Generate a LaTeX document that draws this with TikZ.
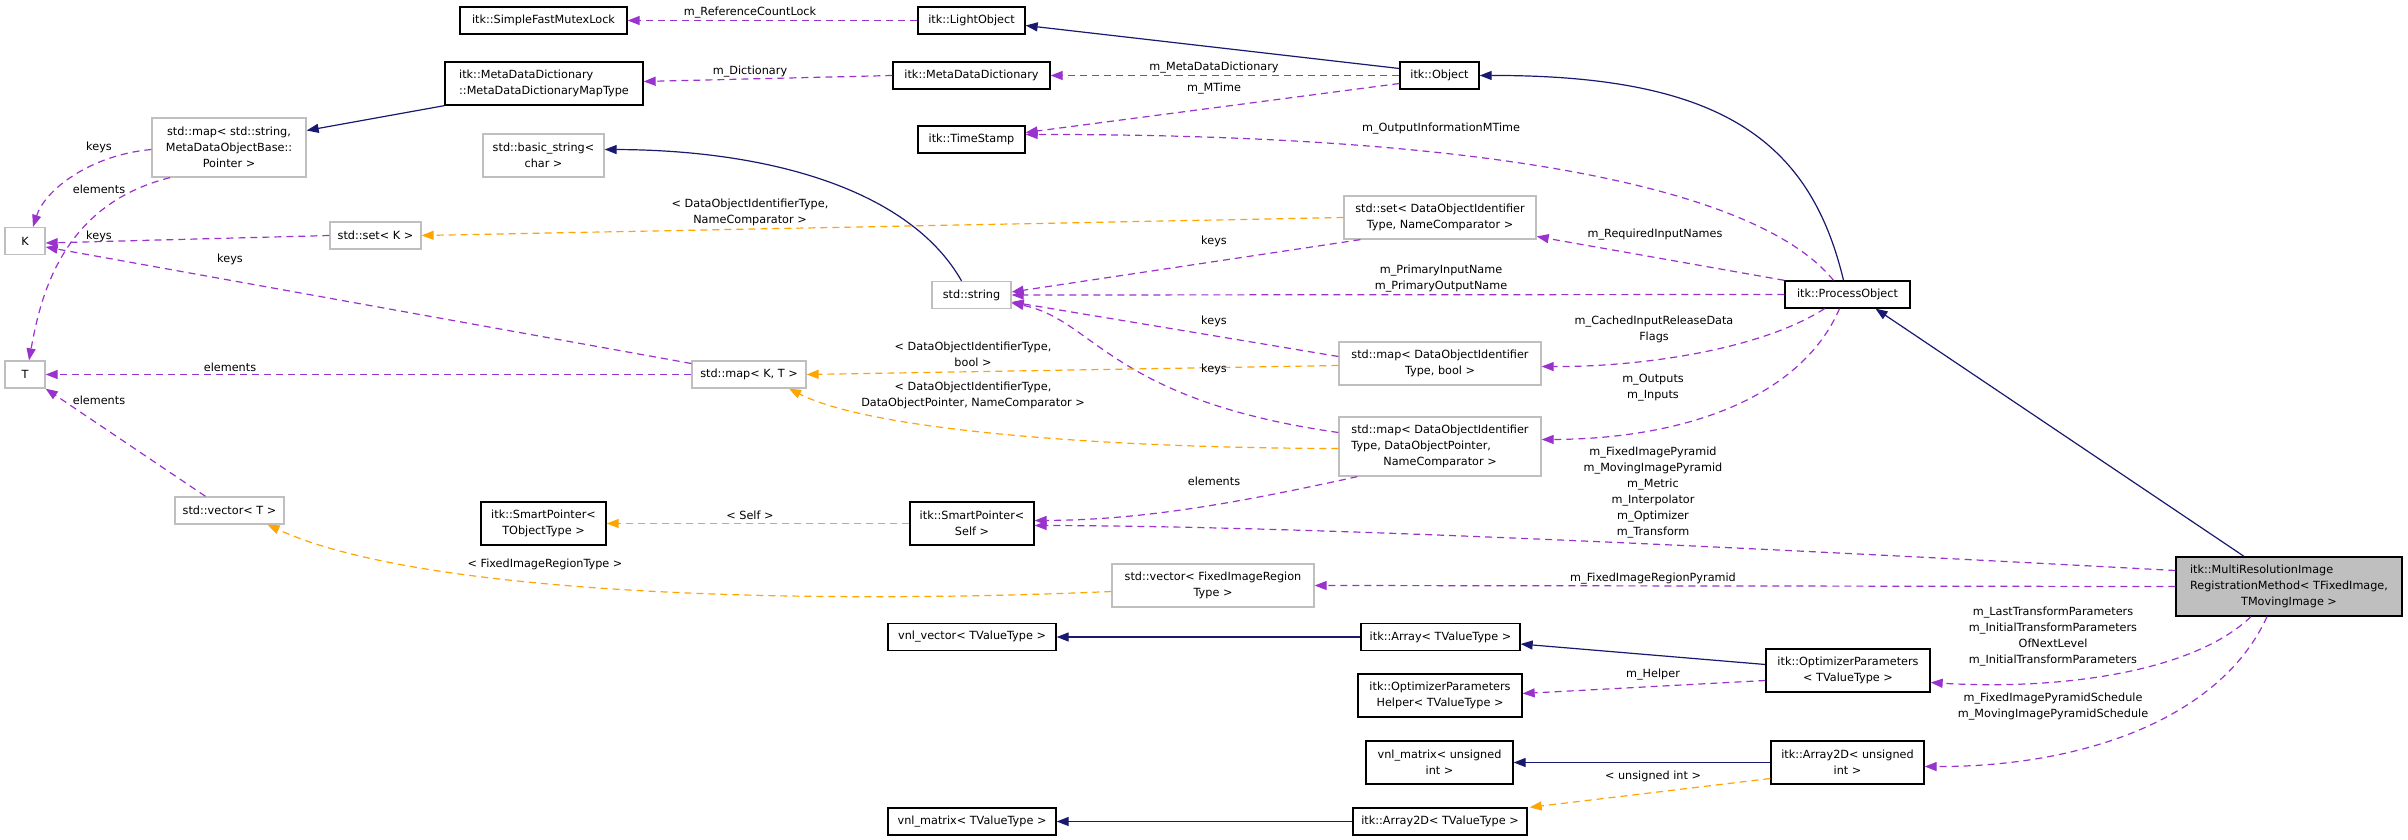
\documentclass[tikz,border=0pt]{standalone}
\usepackage{fontspec}
\setmainfont{DejaVu Sans}
\usepackage{tikz}
\usetikzlibrary{arrows.meta}

\definecolor{usagecol}{HTML}{9A32CD}
\definecolor{tmplcol}{HTML}{FFA500}
\definecolor{inhcol}{HTML}{191970}
\definecolor{extgrey}{HTML}{BFBFBF}

\begin{document}
\begin{tikzpicture}[x=1pt, y=-1pt,
  every node/.style={font=\fontsize{11.25}{16}\selectfont, inner sep=0pt, align=center},
  docbox/.style={draw=black, line width=1.3pt, fill=white},
  extbox/.style={draw=extgrey, line width=1.3pt, fill=white},
  mainbox/.style={draw=black, line width=1.3pt, fill=extgrey},
  lbl/.style={inner sep=0pt},
  inherit/.style={draw=inhcol, line width=1.2pt, -{Triangle[length=12pt,width=9pt]}},
  usage/.style={draw=usagecol, line width=1.2pt, dash pattern=on 7pt off 5pt, -{Triangle[length=12pt,width=9pt]}},
  tmpl/.style={draw=tmplcol, line width=1.2pt, dash pattern=on 7pt off 5pt, -{Triangle[length=12pt,width=9pt]}}]
  \useasboundingbox[fill=white] (0,0) rectangle (2408,840);

  % itk classes, top rows
  \node[docbox, minimum width=167pt, minimum height=27pt] (lock) at (543.5,20.5) {itk::SimpleFastMutexLock};
  \node[docbox, minimum width=107pt, minimum height=27pt] (light) at (971.5,20.5) {itk::LightObject};
  \node[docbox, minimum width=198pt, minimum height=43pt, align=left] (mddmap) at (544,83.5) {itk::MetaDataDictionary\\::MetaDataDictionaryMapType};
  \node[docbox, minimum width=157pt, minimum height=27pt] (mdd) at (971.5,75.5) {itk::MetaDataDictionary};
  \node[docbox, minimum width=79pt, minimum height=27pt] (object) at (1439.5,75.5) {itk::Object};
  \node[docbox, minimum width=107pt, minimum height=27pt] (stamp) at (971.5,139.5) {itk::TimeStamp};
  \node[docbox, minimum width=125pt, minimum height=27pt] (process) at (1847.5,294.5) {itk::ProcessObject};

  % std containers
  \node[extbox, minimum width=154pt, minimum height=59pt] (strmap) at (229,147.5) {std::map< std::string,\\MetaDataObjectBase::\\Pointer >};
  \node[extbox, minimum width=121pt, minimum height=43pt] (basicstr) at (543.5,155.5) {std::basic\_string<\\char >};
  \node[extbox, minimum width=40pt, minimum height=27pt] (K) at (25,241) {K};
  \node[extbox, minimum width=91pt, minimum height=27pt] (setk) at (375.5,235.5) {std::set< K >};
  \node[extbox, minimum width=40pt, minimum height=27pt] (T) at (25,374.5) {T};
  \node[extbox, minimum width=114pt, minimum height=27pt] (mapkt) at (749,374.5) {std::map< K, T >};
  \node[extbox, minimum width=192pt, minimum height=43pt] (setdoi) at (1440,217.5) {std::set< DataObjectIdentifier\\Type, NameComparator >};
  \node[extbox, minimum width=79pt, minimum height=27pt] (string) at (971.5,295) {std::string};
  \node[extbox, minimum width=202pt, minimum height=43pt] (mapbool) at (1440,363.5) {std::map< DataObjectIdentifier\\Type, bool >};
  \node[extbox, minimum width=202pt, minimum height=59pt] (mapdop) at (1440,446.5) {\begin{tabular}{@{}l@{}}std::map< DataObjectIdentifier\\Type, DataObjectPointer,\\\multicolumn{1}{@{}c@{}}{NameComparator >}\end{tabular}};
  \node[extbox, minimum width=109pt, minimum height=27pt] (vect) at (229.5,510.5) {std::vector< T >};
  \node[extbox, minimum width=202pt, minimum height=43pt] (vecregion) at (1213,585.5) {std::vector< FixedImageRegion\\Type >};

  % lower rows
  \node[docbox, minimum width=125pt, minimum height=43pt] (sptobj) at (543.5,523.5) {itk::SmartPointer<\\TObjectType >};
  \node[docbox, minimum width=124pt, minimum height=43pt] (sptself) at (972,523.5) {itk::SmartPointer<\\Self >};
  \node[mainbox, minimum width=226pt, minimum height=59pt] (mrirm) at (2289,586.5) {\begin{tabular}{@{}l@{}}itk::MultiResolutionImage\\RegistrationMethod< TFixedImage,\\\multicolumn{1}{@{}c@{}}{TMovingImage >}\end{tabular}};
  \node[docbox, minimum width=168pt, minimum height=27pt] (vnlvec) at (972,637) {vnl\_vector< TValueType >};
  \node[docbox, minimum width=159pt, minimum height=27pt] (array) at (1440.5,637) {itk::Array< TValueType >};
  \node[docbox, minimum width=164pt, minimum height=43pt] (ophelper) at (1440,695.5) {itk::OptimizerParameters\\Helper< TValueType >};
  \node[docbox, minimum width=164pt, minimum height=43pt] (optparam) at (1848,670.5) {itk::OptimizerParameters\\< TValueType >};
  \node[docbox, minimum width=147pt, minimum height=43pt] (vnlmatui) at (1439.5,762.5) {vnl\_matrix< unsigned\\int >};
  \node[docbox, minimum width=153pt, minimum height=43pt] (arr2dui) at (1847.5,762.5) {itk::Array2D< unsigned\\int >};
  \node[docbox, minimum width=168pt, minimum height=27pt] (vnlmattv) at (972,821.5) {vnl\_matrix< TValueType >};
  \node[docbox, minimum width=174pt, minimum height=27pt] (arr2dtv) at (1440,821.5) {itk::Array2D< TValueType >};

  % inheritance
  \draw[inherit] ([yshift=7pt]object.west) -- ([yshift=-5pt]light.east);
  \draw[inherit] (mddmap.south west) -- ([yshift=17pt]strmap.east);
  \draw[inherit] ([xshift=-10pt]string.north) .. controls (910,190) and (770,150) .. ([yshift=6pt]basicstr.east);
  \draw[inherit] ([xshift=-4pt]process.north) .. controls (1810,140) and (1720,75) .. (object.east);
  \draw[inherit] ([xshift=-45pt]mrirm.north) -- ([xshift=28pt]process.south);
  \draw[inherit] (array.west) -- (vnlvec.east);
  \draw[inherit] ([yshift=6pt]optparam.west) -- ([yshift=-7pt]array.east);
  \draw[inherit] (arr2dui.west) -- (vnlmatui.east);
  \draw[inherit] (arr2dtv.west) -- (vnlmattv.east);

  % usage
  \draw[usage] (light.west) -- (lock.east);
  \draw[usage] (mdd.west) -- ([yshift=2pt]mddmap.east);
  \draw[usage] (object.west) -- (mdd.east);
  \draw[usage] ([yshift=-8pt]object.west) -- ([yshift=7pt]stamp.east);
  \draw[usage] ([xshift=-14pt]process.north) .. controls (1760,190) and (1500,134) .. ([yshift=5pt]stamp.east);
  \draw[usage] ([xshift=17pt]setdoi.south west) -- ([yshift=3pt]string.east);
  \draw[usage] (process.north west) -- ([yshift=-19pt]setdoi.east);
  \draw[usage] (process.west) -- (string.east);
  \draw[usage] ([yshift=7pt]mapbool.west) -- ([yshift=-7pt]string.east);
  \draw[usage] ([xshift=-23pt]process.south) .. controls (1760,350) and (1640,367) .. ([yshift=-3pt]mapbool.east);
  \draw[usage] ([yshift=14pt]mapdop.west) .. controls (1110,400) and (1095,320) .. ([yshift=-8pt]string.east);
  \draw[usage] ([xshift=-8pt]process.south) .. controls (1800,400) and (1680,439) .. ([yshift=7pt]mapdop.east);
  \draw[usage] ([xshift=19pt]mapdop.south west) .. controls (1250,500) and (1150,520) .. ([yshift=3pt]sptself.east);
  \draw[usage] ([yshift=16pt]mrirm.west) .. controls (1700,545) and (1300,526) .. ([yshift=-2pt]sptself.east);
  \draw[usage] (mrirm.west) -- (vecregion.east);
  \draw[usage] ([yshift=-10pt]optparam.west) -- ([yshift=2pt]ophelper.east);
  \draw[usage] ([xshift=-38pt]mrirm.south) .. controls (2190,675) and (2050,690) .. ([yshift=-12pt]optparam.east);
  \draw[usage] ([xshift=-22pt]mrirm.south) .. controls (2220,720) and (2080,767) .. ([yshift=-4pt]arr2dui.east);
  \draw[usage] ([yshift=-2pt]strmap.west) .. controls (90,155) and (45,190) .. ([xshift=8pt]K.north);
  \draw[usage] ([xshift=-59pt]strmap.south) .. controls (60,205) and (40,300) .. ([xshift=4pt]T.north);
  \draw[usage] (setk.west) -- ([yshift=-2pt]K.east);
  \draw[usage] ([yshift=11pt]mapkt.west) -- ([yshift=-6pt]K.east);
  \draw[usage] (mapkt.west) -- (T.east);
  \draw[usage] ([xshift=-24pt]vect.north) -- (T.south east);

  % template instances
  \draw[tmpl] (setdoi.west) -- (setk.east);
  \draw[tmpl] ([yshift=-2pt]mapbool.west) -- (mapkt.east);
  \draw[tmpl] ([yshift=-2pt]mapdop.west) .. controls (1100,448) and (870,430) .. ([xshift=40pt]mapkt.south);
  \draw[tmpl] (sptself.west) -- (sptobj.east);
  \draw[tmpl] ([yshift=-6pt]vecregion.west) .. controls (800,605) and (420,595) .. ([xshift=38pt]vect.south);
  \draw[tmpl] ([yshift=-16pt]arr2dui.west) -- ([xshift=2pt]arr2dtv.north east);

  % edge labels
  \node[lbl] (l-reflock) at (750,13) {m\_ReferenceCountLock};
  \node[lbl] (l-dict) at (750,72) {m\_Dictionary};
  \node[lbl] (l-mddict) at (1214,68) {m\_MetaDataDictionary};
  \node[lbl] (l-mtime) at (1214,89) {m\_MTime};
  \node[lbl] (l-outinfo) at (1441,129) {m\_OutputInformationMTime};
  \node[lbl] (l-setkeys) at (1214,241) {keys};
  \node[lbl] (l-reqinput) at (1655,235) {m\_RequiredInputNames};
  \node[lbl] (l-primary) at (1441,279) {m\_PrimaryInputName\\m\_PrimaryOutputName};
  \node[lbl] (l-boolkeys) at (1214,321) {keys};
  \node[lbl] (l-cached) at (1654,329) {m\_CachedInputReleaseData\\Flags};
  \node[lbl] (l-dopkeys) at (1214,369) {keys};
  \node[lbl] (l-outputs) at (1653,388) {m\_Outputs\\m\_Inputs};
  \node[lbl] (l-dopelem) at (1214,481) {elements};
  \node[lbl] (l-pyramids) at (1653,493) {m\_FixedImagePyramid\\m\_MovingImagePyramid\\m\_Metric\\m\_Interpolator\\m\_Optimizer\\m\_Transform};
  \node[lbl] (l-regionpyr) at (1653,579) {m\_FixedImageRegionPyramid};
  \node[lbl] (l-helper) at (1653,675) {m\_Helper};
  \node[lbl] (l-params) at (2053,637) {m\_LastTransformParameters\\m\_InitialTransformParameters\\OfNextLevel\\m\_InitialTransformParameters};
  \node[lbl] (l-schedule) at (2053,707) {m\_FixedImagePyramidSchedule\\m\_MovingImagePyramidSchedule};
  \node[lbl] (l-strkeys) at (99,147) {keys};
  \node[lbl] (l-strelem) at (99,189) {elements};
  \node[lbl] (l-setkkeys) at (99,236) {keys};
  \node[lbl] (l-mapkeys) at (230,259) {keys};
  \node[lbl] (l-mapelem) at (230,367) {elements};
  \node[lbl] (l-vecelem) at (99,400) {elements};
  \node[lbl] (l-setdoi) at (750,212.5) {< DataObjectIdentifierType,\\NameComparator >};
  \node[lbl] (l-mapbool) at (973,354.5) {< DataObjectIdentifierType,\\bool >};
  \node[lbl] (l-mapdop) at (973,395) {< DataObjectIdentifierType,\\DataObjectPointer, NameComparator >};
  \node[lbl] (l-self) at (750,515) {< Self >};
  \node[lbl] (l-region) at (545,564) {< FixedImageRegionType >};
  \node[lbl] (l-uint) at (1653,776) {< unsigned int >};
\end{tikzpicture}
\end{document}
